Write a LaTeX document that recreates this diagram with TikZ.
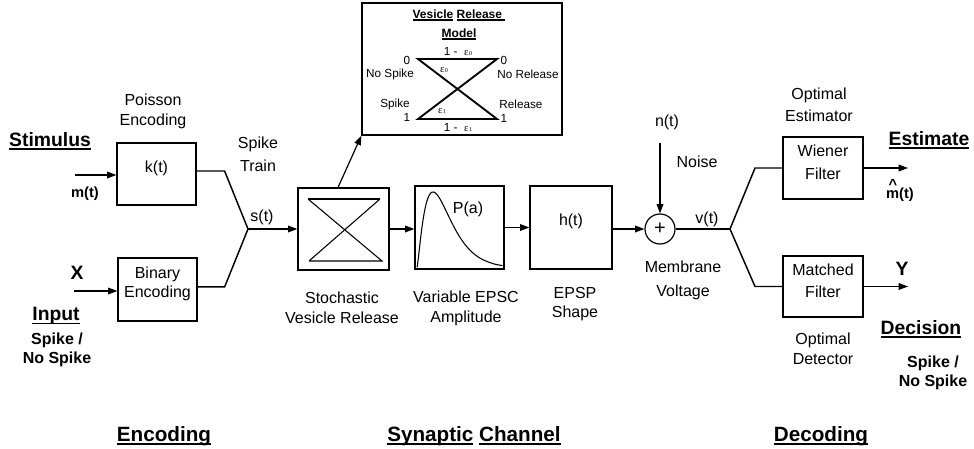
\documentclass[tikz,border=0pt]{standalone}
\usepackage{fontspec}
\setmainfont{Liberation Sans}
\newfontfamily\grkfont{Liberation Serif}
\usetikzlibrary{arrows.meta,fit}

% underline with an explicit rule: \ulbox[depth]{text}
\newcommand\ulbox[2][2.4pt]{\setbox0\hbox{#2}\rlap{\rule[-#1]{\wd0}{1pt}}\box0\relax}
% epsilon with a small index
\newcommand\epsi[1]{{\grkfont\fontsize{8}{8}\selectfont ε\kern0.3pt{\fontsize{4.5}{5}\selectfont #1}}}

\tikzset{
  box/.style={draw, line width=0.9pt, inner sep=0pt},
  lbl/.style={font=\fontsize{12}{15}\selectfont, align=center, inner sep=0pt},
  big/.style={font=\fontsize{14.5}{17}\selectfont\bfseries, inner sep=0pt},
  sml/.style={font=\fontsize{12}{14.25}\selectfont\bfseries, align=center, inner sep=0pt},
  vml/.style={font=\fontsize{8.8}{10}\selectfont, align=center, inner sep=0pt},
  head/.style={font=\fontsize{15.5}{18}\selectfont\bfseries, inner sep=0pt},
  wire/.style={line width=1.1pt},
  arr/.style={line width=0.9pt, -{Triangle[length=7pt,width=5pt]}},
}

\begin{document}
\begin{tikzpicture}[x=0.75pt,y=-0.75pt]
\useasboundingbox (0,0) rectangle (974,449);

% ---------------- encoding ----------------
\node[box, lbl, fit={(117,143) (196,205)}] (kt) {k(t)};
\node[box, lbl, font=\fontsize{12}{14.5}\selectfont, fit={(118,258) (197,321)}] (bin) {Binary\\Encoding};
\node[lbl] (poisson) at (153,111) {Poisson\\Encoding};
\node[big] (stim) at (50,141) {\ulbox{Stimulus}};
\node[font=\fontsize{11}{13}\selectfont\bfseries, inner sep=0pt] (mt) at (85,194) {m(t)};
\coordinate (msrc) at (75,175);
\draw[arr] (msrc) -- (msrc -| kt.west);
\node[big] (xin) at (77,273) {X};
\coordinate (xsrc) at (74,291);
\draw[arr] (xsrc) -- (xsrc -| bin.west);
\node[big] (input) at (56,316) {\ulbox{Input}};
\node[sml] (spkin) at (57,349.5) {Spike /\\No Spike};

\node[lbl, font=\fontsize{12}{17}\selectfont] (train) at (258,154.5) {Spike\\Train};
\node[lbl] (st) at (262,217) {s(t)};
\coordinate (merge) at (248,229);
\draw[wire] ([yshift=2.25pt]kt.east) -- ++(28,0) -- (merge);
\draw[wire] ([yshift=1.9pt]bin.east) -- ++(27,0) -- (merge);

% ---------------- synaptic channel ----------------
\node[box, fit={(298,188) (389,270)}] (sto) {};
\draw[arr] (merge) -- (sto.west);
\draw[line width=1.4pt] (308,199) -- (380,199);
\draw[line width=0.8pt] (309,261) -- (382,261) -- (308,199) (380,199) -- (309,261);
\node[lbl] (stolbl) at (342,308) {Stochastic\\Vesicle Release};

% vesicle release model
\node[box, fit={(362,3) (562,135)}] (vm) {};
\draw[arr] ([xshift=-4.1pt]sto.north) -- (vm.south west);
\node[vml, font=\fontsize{9}{10}\selectfont\bfseries] (vmt) at (459,15) {\ulbox[2pt]{Vesicle}\ \ulbox[2pt]{Release\ }};
\node[vml, font=\fontsize{9}{10}\selectfont\bfseries] (vmm) at (459,34) {\ulbox[2pt]{Model}};
\draw[line width=1.4pt, line join=miter] (418,59) -- (497,59) -- (418,119) -- (497,119) -- cycle;
\node[vml] (l0) at (407,60) {0};
\node[vml] (lns) at (390,74) {No Spike};
\node[vml] (lsp) at (395,104) {Spike};
\node[vml] (l1) at (407,117) {1};
\node[vml] (r0) at (504,60) {0};
\node[vml] (rnr) at (528,74) {No Release};
\node[vml] (rre) at (521,104) {Release};
\node[vml] (r1) at (504,118) {1};
\node[vml] (p00) at (458,52) {1 -\ \ \epsi{0}};
\node[vml] (p01) at (444,70) {\epsi{0}};
\node[vml] (p10) at (442,111) {\epsi{1}};
\node[vml] (p11) at (458,128) {1 -\ \ \epsi{1}};

% EPSC amplitude distribution
\node[box, fit={(415,186) (504,269)}] (epsc) {};
\draw[arr] (sto.east) -- (sto.east -| epsc.west);
\draw[line width=0.8pt] plot[domain=0.01:5.35, samples=90, smooth]
  ({417+16*\x}, {268-76*pow(\x*exp(1-\x),1.3)});
\node[lbl] (pa) at (468,209) {P(a)};
\node[lbl] (epsclbl) at (466,308) {Variable EPSC\\Amplitude};

% EPSP shape
\node[box, lbl, fit={(530,186) (612,269)}] (ht) {h(t)};
\draw[arr] (epsc.east) -- (epsc.east -| ht.west);
\node[lbl, font=\fontsize{12}{14.5}\selectfont] (htlbl) at (575,304) {EPSP\\Shape};

% noise summation
\node[circle, draw, line width=0.9pt, minimum size=22.5pt, inner sep=0pt,
      font=\fontsize{15}{15}\selectfont] (sum) at (660,229) {+};
\draw[arr] (ht.east |- sum) -- (sum.west);
\coordinate (nsrc) at (660,143);
\draw[arr] (nsrc) -- (sum.north);
\node[lbl] (nt) at (667,122) {n(t)};
\node[lbl] (noise) at (697,162) {Noise};
\node[lbl, font=\fontsize{12}{18}\selectfont] (mem) at (683,280.5) {Membrane\\Voltage};
\node[lbl] (vt) at (707,219) {v(t)};

% ---------------- decoding ----------------
\coordinate (split) at (730,229);
\draw[wire] (sum.east) -- (split);
\node[box, lbl, font=\fontsize{12}{17}\selectfont, fit={(783,137) (863,199)}] (wf) {Wiener\\Filter};
\node[box, lbl, font=\fontsize{12}{16.5}\selectfont, fit={(783,256) (863,317)}] (mf) {Matched\\Filter};
\draw[wire] (split) -- ++(25,-61) -- (wf.west);
\draw[wire] (split) -- ++(25,57.5) -- (mf.west);
\node[lbl, font=\fontsize{12}{16.5}\selectfont] (est) at (819,105) {Optimal\\Estimator};
\node[lbl] (det) at (823,349) {Optimal\\Detector};

\coordinate (eout) at (908,168);
\draw[arr] (wf.east) -- (eout);
\coordinate (dout) at (908,286.5);
\draw[arr] (mf.east) -- (dout);
\node[big] (estim) at (929,140) {\ulbox{Estimate}};
\node[font=\fontsize{11}{13}\selectfont\bfseries, inner sep=0pt, anchor=base] (mhat) at (900,199)
  {\rlap{\kern1.8pt\raisebox{6.8pt}{\^{}}}m(t)};
\node[big] (yout) at (902,269) {Y};
\node[big] (decision) at (921,329) {\ulbox{Decision}};
\node[sml] (spkout) at (933,372.5) {Spike /\\No Spike};

% ---------------- stage headings ----------------
\node[head] (hEnc) at (164,436) {\ulbox[2.6pt]{Encoding}};
\node[head] (hSyn) at (474,436) {\ulbox[2.6pt]{Synaptic}\ \ulbox[2.6pt]{Channel}};
\node[head] (hDec) at (821,436) {\ulbox[2.6pt]{Decoding}};
\end{tikzpicture}
\end{document}
